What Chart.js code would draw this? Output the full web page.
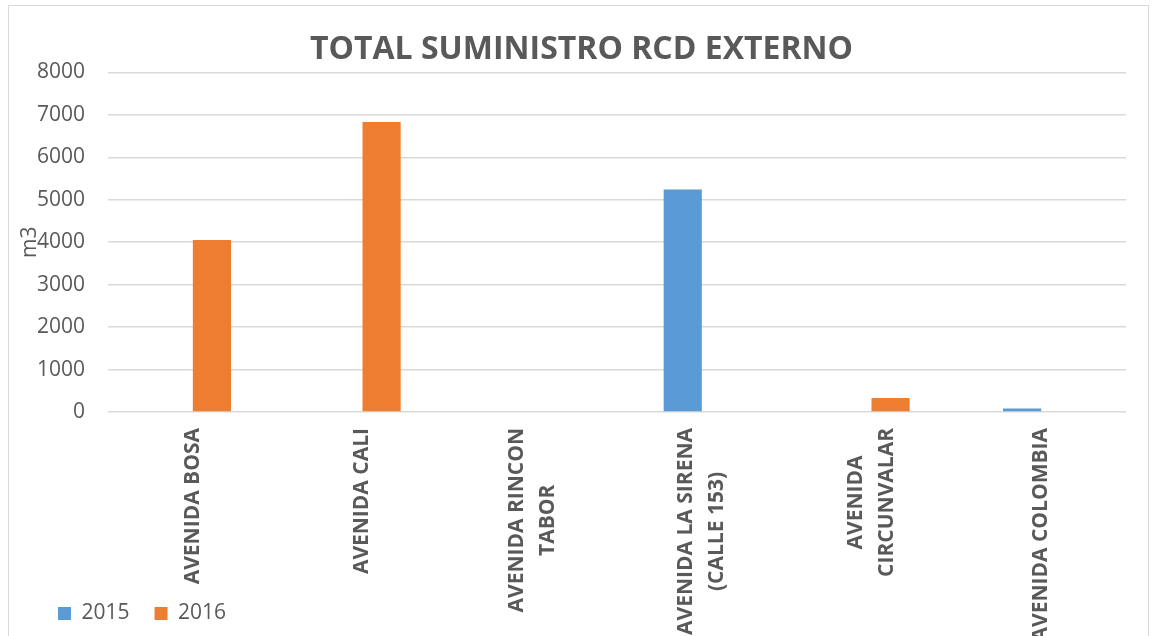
<!DOCTYPE html>
<html>
<head>
<meta charset="utf-8">
<script src="https://cdn.jsdelivr.net/npm/chart.js@4.4.0/dist/chart.umd.min.js"></script>
<style>
    html, body { margin: 0; padding: 0; background: #fff; overflow: hidden; }
    #frame {
        position: absolute;
        left: 8px; top: 5px;
        width: 1139px; height: 640px;
        border: 1px solid #d9d9d9;
    }
    #chart { display: block; }
</style>
</head>
<body>
<div id="frame"><canvas id="chart" width="1139" height="630"></canvas></div>
<script>
const categories = [
    ['AVENIDA BOSA'],
    ['AVENIDA CALI'],
    ['AVENIDA RINCON', 'TABOR'],
    ['AVENIDA LA SIRENA', '(CALLE 153)'],
    ['AVENIDA', 'CIRCUNVALAR'],
    ['AVENIDA COLOMBIA']
];
const values2015 = [0, 0, 0, 5240, 0, 80];
const values2016 = [4050, 6830, 0, 0, 330, 0];
const yTicks = [0, 1000, 2000, 3000, 4000, 5000, 6000, 7000, 8000];

const TEXT = '#595959';
const FONT = "'Open Sans', sans-serif";

// etiquetas del eje x: bloque rotado, lineas centradas entre si (como Excel)
const xLabelPlugin = {
    id: 'xLabels',
    afterDraw(chart) {
        const ctx = chart.ctx;
        const xs = chart.scales.x;
        const top = chart.chartArea.bottom + 16;
        const lh = 31;
        ctx.save();
        ctx.font = 'bold 21px ' + FONT;
        ctx.fillStyle = TEXT;
        ctx.textAlign = 'center';
        ctx.textBaseline = 'middle';
        categories.forEach((lines, i) => {
            const x = xs.getPixelForValue(i);
            const maxW = Math.max(...lines.map(l => ctx.measureText(l).width));
            ctx.save();
            ctx.translate(x, top);
            ctx.rotate(-Math.PI / 2);
            lines.forEach((line, j) => {
                ctx.fillText(line, -maxW / 2, (j - (lines.length - 1) / 2) * lh);
            });
            ctx.restore();
        });
        ctx.restore();
    }
};

// el titulo y la leyenda de Excel no quedan centrados en el lienzo
const shiftPlugin = {
    id: 'shiftBoxes',
    afterLayout(chart) {
        if (chart.titleBlock) {
            chart.titleBlock.left += 14;
            chart.titleBlock.right += 14;
        }
        if (chart.legend) {
            chart.legend.left += 24;
            chart.legend.top += 2;
        }
    }
};

new Chart(document.getElementById('chart'), {
    type: 'bar',
    data: {
        labels: categories.map(c => c.join(' ')),
        datasets: [
            { label: '2015', data: values2015, backgroundColor: '#5B9BD5', borderWidth: 0 },
            { label: '2016', data: values2016, backgroundColor: '#ED7D31', borderWidth: 0 }
        ]
    },
    options: {
        responsive: false,
        animation: false,
        layout: { padding: { left: 0, right: 22, top: 0, bottom: 4 } },
        datasets: { bar: { categoryPercentage: 0.45, barPercentage: 1.0 } },
        plugins: {
            title: {
                display: true,
                text: 'TOTAL SUMINISTRO RCD EXTERNO',
                color: TEXT,
                font: { family: FONT, size: 32, weight: 'bold', lineHeight: 1.2 },
                padding: { top: 25, bottom: 3 }
            },
            legend: {
                position: 'bottom',
                align: 'start',
                labels: {
                    color: TEXT,
                    font: { family: FONT, size: 21 },
                    boxWidth: 13,
                    boxHeight: 13,
                    padding: 25
                }
            },
            tooltip: { enabled: false }
        },
        scales: {
            x: {
                grid: { display: false },
                border: { display: false },
                ticks: { display: false },
                afterFit: function(scale) { scale.height = 164; }
            },
            y: {
                min: 0,
                max: 8000,
                afterBuildTicks: function(scale) {
                    scale.ticks = yTicks.map(v => ({ value: v }));
                },
                afterFit: function(scale) { scale.width = 99; },
                grid: { color: '#d9d9d9', lineWidth: 1.5, drawTicks: false },
                border: { display: false },
                ticks: {
                    color: TEXT,
                    font: { family: FONT, size: 21 },
                    padding: 23,
                    callback: function(value) { return String(value); }
                },
                title: {
                    display: true,
                    text: 'm3',
                    color: TEXT,
                    font: { family: FONT, size: 21 },
                    padding: { top: 8, bottom: 0 }
                }
            }
        }
    },
    plugins: [xLabelPlugin, shiftPlugin]
});
</script>
</body>
</html>
